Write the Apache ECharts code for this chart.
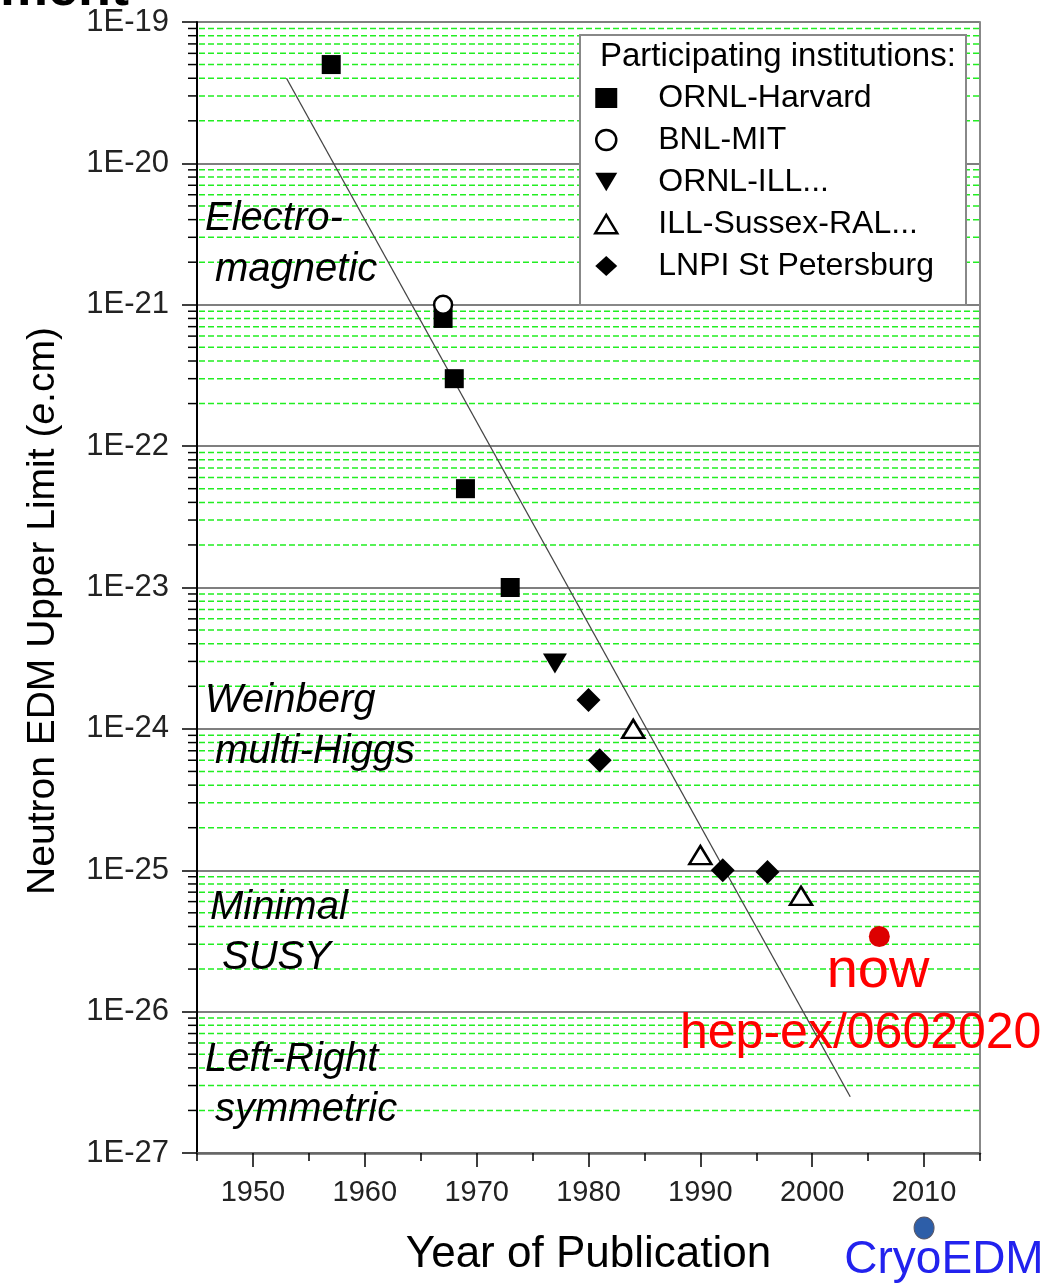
<!DOCTYPE html>
<html><head><meta charset="utf-8">
<script src="https://cdn.jsdelivr.net/npm/echarts@6/dist/echarts.min.js"></script>
<style>html,body{margin:0;padding:0;background:#fff}#c{width:1062px;height:1284px}</style>
</head><body><div id="c"></div>
<script>
// ---- data ----
const ornlHarvardYears = [1957, 1967, 1968, 1969, 1973];
const ornlHarvardLimits = [5e-20, 8e-22, 3e-22, 5e-23, 1e-23];
const bnlMitYears = [1967];
const bnlMitLimits = [1e-21];
const ornlIllYears = [1977];
const ornlIllLimits = [2.9e-24];
const illSussexYears = [1984, 1990, 1999];
const illSussexLimits = [1e-24, 1.28e-25, 6.6e-26];
const lnpiYears = [1980, 1981, 1992, 1996];
const lnpiLimits = [1.6e-24, 6e-25, 1e-25, 9.7e-26];
const nowYears = [2006];
const nowLimits = [3.4e-26];
const cryoYears = [2010];
const cryoLimits = [2.95e-28];
const fitYears = [1953, 2003.4];
const fitLimits = [4e-20, 2.5e-27];
const seriesNames = ['ORNL-Harvard', 'BNL-MIT', 'ORNL-ILL...', 'ILL-Sussex-RAL...', 'LNPI St Petersburg'];
const xMajorTicks = [1950, 1960, 1970, 1980, 1990, 2000, 2010];
const xMinorTicks = [1945, 1955, 1965, 1975, 1985, 1995, 2005, 2015];
const yMajorTicks = [1e-27, 1e-26, 1e-25, 1e-24, 1e-23, 1e-22, 1e-21, 1e-20, 1e-19];
const decadeExponents = [-27, -26, -25, -24, -23, -22, -21, -20];
const minorMultipliers = [2, 3, 4, 5, 6, 7, 8, 9];
const regionLabels = [['Electro-', 'magnetic'], ['Weinberg', 'multi-Higgs'], ['Minimal', 'SUSY'], ['Left-Right', 'symmetric']];

const zip = (a, b) => a.map((v, i) => [v, b[i]]);
const minorValues = [];
decadeExponents.forEach(e => minorMultipliers.forEach(m => minorValues.push([1945, m * Math.pow(10, e), 2015])));

const FONT = '"Liberation Sans", Arial, sans-serif';
const chart = echarts.init(document.getElementById('c'));

const regionPos = [[205, 219, 215, 270], [205, 701, 215, 752], [210, 908, 222, 958], [205, 1060, 215, 1110]];
const graphics = [];
regionLabels.forEach((lbl, i) => {
  const p = regionPos[i];
  graphics.push({type: 'text', x: p[0], y: p[1], z: 10, style: {text: lbl[0], font: 'italic 40px ' + FONT, fill: '#000', verticalAlign: 'middle'}});
  graphics.push({type: 'text', x: p[2], y: p[3], z: 10, style: {text: lbl[1], font: 'italic 40px ' + FONT, fill: '#000', verticalAlign: 'middle'}});
});
graphics.push({type: 'rect', x: 580, y: 35, z: 3, shape: {width: 386, height: 270}, style: {fill: '#fff', stroke: '#888', lineWidth: 2}});
graphics.push({type: 'text', x: 600, y: 57, z: 5, style: {text: 'Participating institutions:', font: '33px ' + FONT, fill: '#000', verticalAlign: 'middle'}});
graphics.push({type: 'text', x: 878, y: 972, z: 10, style: {text: 'now', font: '56px ' + FONT, fill: '#ff0000', align: 'center', verticalAlign: 'middle'}});
graphics.push({type: 'text', x: 680, y: 1034, z: 10, style: {text: 'hep-ex/0602020', font: '50px ' + FONT, fill: '#ff0000', align: 'left', verticalAlign: 'middle'}});
graphics.push({type: 'text', x: 944, y: 1260, z: 10, style: {text: 'CryoEDM', font: '46px ' + FONT, fill: '#2222ee', align: 'center', verticalAlign: 'middle'}});
graphics.push({type: 'text', x: 0, y: 17, z: 10, style: {text: 'ment', font: 'bold 54px ' + FONT, fill: '#000', align: 'left', verticalAlign: 'bottom'}});
graphics.push({type: 'text', x: 43, y: 611, rotation: Math.PI / 2, z: 10, style: {
  text: 'Neutron EDM Upper Limit ({i|e}.cm)', fontFamily: FONT, fontSize: 39, fill: '#000', align: 'center', verticalAlign: 'middle',
  rich: {i: {fontFamily: FONT, fontSize: 39, fontStyle: 'italic', fill: '#000'}}}});

const scatterBase = {type: 'scatter', xAxisIndex: 0, yAxisIndex: 0, z: 4};

chart.setOption({
  animation: false,
  backgroundColor: '#fff',
  grid: {left: 197, top: 22, right: 82, bottom: 131, containLabel: false, outerBoundsMode: 'none'},
  legend: {
    data: [
      {name: seriesNames[0], icon: 'rect'},
      {name: seriesNames[1], icon: 'circle', itemStyle: {color: '#fff', borderColor: '#000', borderWidth: 2.5}},
      {name: seriesNames[2], icon: 'path://M0,0 L12,0 L6,10 Z'},
      {name: seriesNames[3], icon: 'path://M6,0 L12,10 L0,10 Z', itemStyle: {color: '#fff', borderColor: '#000', borderWidth: 2.5}},
      {name: seriesNames[4], icon: 'diamond'}
    ],
    orient: 'vertical', left: 580, top: 35,
    padding: [47, 10, 10, 14], itemWidth: 22, itemHeight: 20, itemGap: 10,
    textStyle: {fontFamily: FONT, fontSize: 32, color: '#000', padding: [0, 0, 0, 36]},
    z: 6, inactiveColor: '#000'
  },
  graphic: graphics,
  xAxis: [{
    type: 'value', min: 1945, max: 2015, position: 'bottom',
    name: 'Year of Publication', nameLocation: 'middle', nameGap: 80,
    nameTextStyle: {fontFamily: FONT, fontSize: 44, color: '#000'},
    axisLine: {show: true, onZero: false, lineStyle: {color: '#666', width: 2.5}},
    axisTick: {show: true, length: 14, customValues: xMajorTicks, lineStyle: {color: '#000', width: 1.5}},
    axisLabel: {customValues: xMajorTicks, fontFamily: FONT, fontSize: 29, color: '#222', margin: 25, formatter: v => String(v)},
    splitLine: {show: false}
  }, {
    type: 'value', min: 1945, max: 2015, position: 'bottom',
    axisLine: {show: false, onZero: false},
    axisTick: {show: true, length: 8, customValues: xMinorTicks, lineStyle: {color: '#000', width: 1.5}},
    axisLabel: {show: false}, splitLine: {show: false}
  }],
  yAxis: [{
    type: 'log', logBase: 10, min: 1e-27, max: 1e-19, splitNumber: 8,
    axisLine: {show: true, lineStyle: {color: '#000', width: 2}},
    axisTick: {show: true, length: 15, customValues: yMajorTicks, lineStyle: {color: '#000', width: 1.5}},
    axisLabel: {customValues: yMajorTicks, fontFamily: FONT, fontSize: 31, color: '#222', margin: 28, hideOverlap: false,
      formatter: v => '1E' + Math.round(Math.log10(v))},
    splitLine: {show: true, lineStyle: {color: '#555', width: 1.5}}
  }, {
    type: 'log', logBase: 10, min: 1e-27, max: 1e-19, position: 'right',
    axisLine: {show: true, lineStyle: {color: '#888', width: 2}},
    axisTick: {show: false}, axisLabel: {show: false}, splitLine: {show: false}
  }],
  series: [
    {
      type: 'custom', name: 'minor', xAxisIndex: 0, yAxisIndex: 0, z: 1, silent: true, clip: false,
      data: minorValues,
      renderItem: (params, api) => {
        const v = api.value(1);
        const p0 = api.coord([api.value(0), v]);
        const p1 = api.coord([api.value(2), v]);
        return {type: 'group', children: [
          {type: 'line', shape: {x1: p0[0] + 2, y1: p0[1], x2: p1[0] - 1, y2: p1[1]}, style: {stroke: '#22ee22', lineWidth: 1.5, lineDash: [6, 3]}},
          {type: 'line', shape: {x1: p0[0] - 9, y1: p0[1], x2: p0[0], y2: p0[1]}, style: {stroke: '#000', lineWidth: 1.5}}
        ]};
      }
    },
    {type: 'line', name: 'fit', data: zip(fitYears, fitLimits), showSymbol: false, symbol: 'none', z: 2,
      lineStyle: {color: '#444', width: 1.3}},
    Object.assign({}, scatterBase, {name: seriesNames[0], data: zip(ornlHarvardYears, ornlHarvardLimits), symbol: 'rect', symbolSize: 19,
      itemStyle: {color: '#000', opacity: 1}}),
    Object.assign({}, scatterBase, {name: seriesNames[1], data: zip(bnlMitYears, bnlMitLimits), symbol: 'circle', symbolSize: 18,
      itemStyle: {color: '#fff', borderColor: '#000', borderWidth: 2.5, opacity: 1}}),
    Object.assign({}, scatterBase, {name: seriesNames[2], data: zip(ornlIllYears, ornlIllLimits), symbol: 'triangle', symbolRotate: 180, symbolSize: [24, 20],
      itemStyle: {color: '#000', opacity: 1}}),
    Object.assign({}, scatterBase, {name: seriesNames[3], data: zip(illSussexYears, illSussexLimits), symbol: 'triangle', symbolSize: [22, 18],
      itemStyle: {color: '#fff', borderColor: '#000', borderWidth: 2.5, opacity: 1}}),
    Object.assign({}, scatterBase, {name: seriesNames[4], data: zip(lnpiYears, lnpiLimits), symbol: 'diamond', symbolSize: 24,
      itemStyle: {color: '#000', opacity: 1}}),
    Object.assign({}, scatterBase, {name: 'now', data: zip(nowYears, nowLimits), symbol: 'circle', symbolSize: 21,
      itemStyle: {color: '#dd0000', opacity: 1}}),
    Object.assign({}, scatterBase, {name: 'CryoEDM', data: zip(cryoYears, cryoLimits), symbol: 'circle', symbolSize: [20, 22], clip: false,
      itemStyle: {color: '#2d5ea8', borderColor: '#556', borderWidth: 1, opacity: 1}})
  ]
});
</script>
</body></html>
